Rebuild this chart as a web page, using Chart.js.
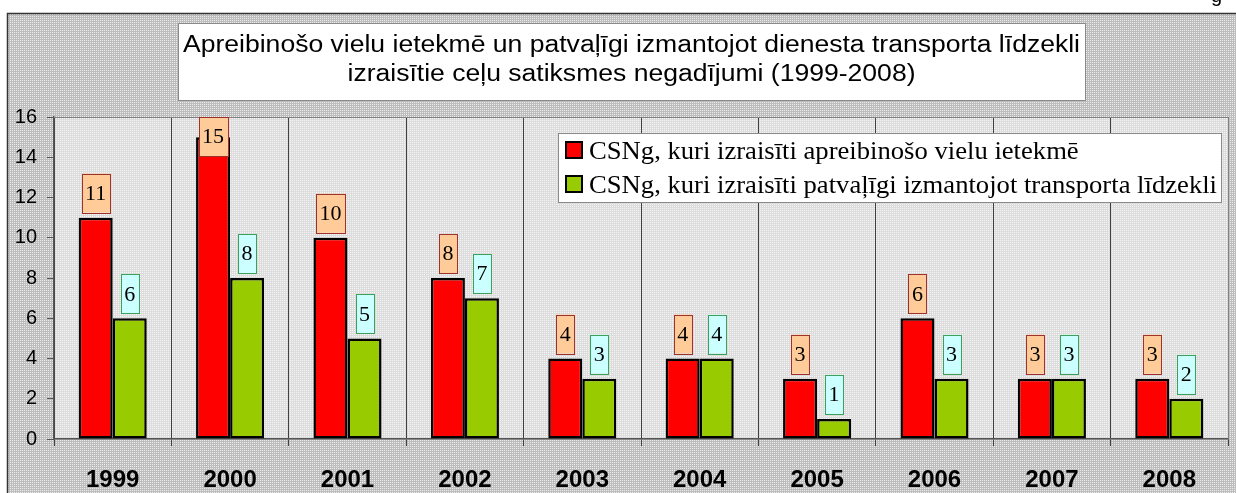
<!DOCTYPE html>
<html>
<head>
<meta charset="utf-8">
<script src="https://cdn.jsdelivr.net/npm/chart.js@4"></script>
<style>
html,body{margin:0;padding:0;background:#fff;}
#wrap{width:1236px;height:493px;}
</style>
</head>
<body>
<div id="wrap"><canvas id="c" width="1236" height="493"></canvas></div>
<script>
const years = ['1999','2000','2001','2002','2003','2004','2005','2006','2007','2008'];
const drugSeries = [11,15,10,8,4,4,3,6,3,3];
const unauthSeries = [6,8,5,7,3,4,1,3,3,2];
const seriesNames = ['CSNg, kuri izraisīti apreibinošo vielu ietekmē',
                     'CSNg, kuri izraisīti patvaļīgi izmantojot transporta līdzekli'];
const titleLines = ['Apreibinošo vielu ietekmē un patvaļīgi izmantojot dienesta transporta līdzekli',
                    'izraisītie ceļu satiksmes negadījumi (1999-2008)'];

const SANS = '"Liberation Sans", Arial, sans-serif';
const SERIF = '"Liberation Serif", "Times New Roman", serif';

function makePattern(ctx, base, dot) {
  const c = document.createElement('canvas');
  c.width = 2; c.height = 2;
  const g = c.getContext('2d');
  g.fillStyle = base; g.fillRect(0,0,2,2);
  g.fillStyle = dot; g.fillRect(0,0,1,1);
  return ctx.createPattern(c, 'repeat');
}

function squeezedText(ctx, lines, font, refText, target, x, ys, align) {
  ctx.font = font;
  const sx = target / ctx.measureText(refText).width;
  ctx.textAlign = align;
  ctx.textBaseline = 'alphabetic';
  lines.forEach((t, i) => {
    ctx.save();
    ctx.translate(x, ys[i]);
    ctx.scale(sx, 1);
    ctx.fillText(t, 0, 0);
    ctx.restore();
  });
}

const decor = {
  id: 'decor',
  beforeDraw(chart) {
    const ctx = chart.ctx, a = chart.chartArea;
    ctx.save();
    ctx.fillStyle = '#fff';
    ctx.fillRect(0, 0, chart.width, chart.height);
    ctx.fillStyle = makePattern(ctx, '#bdbdbd', '#ececec');
    ctx.fillRect(7, 13, chart.width - 7, chart.height - 13);
    ctx.strokeStyle = '#333';
    ctx.lineWidth = 1.5;
    ctx.strokeRect(7.5, 13.5, chart.width + 5, chart.height + 5);
    ctx.fillStyle = makePattern(ctx, '#dcdcdc', '#f6f6f6');
    ctx.fillRect(a.left, a.top, a.right - a.left, a.bottom - a.top);
    ctx.fillStyle = '#000';
    ctx.font = '20px ' + SANS;
    ctx.textBaseline = 'alphabetic';
    ctx.fillText('g', 1211, 2);
    ctx.restore();
  },
  afterDatasetsDraw(chart) {
    const ctx = chart.ctx, a = chart.chartArea;
    ctx.save();
    ctx.strokeStyle = '#808080';
    ctx.lineWidth = 1;
    ctx.beginPath();
    ctx.moveTo(a.left, a.top + 0.5); ctx.lineTo(a.right + 0.5, a.top + 0.5);
    ctx.lineTo(a.right + 0.5, a.bottom);
    ctx.stroke();
    const styles = [
      {fill: '#FFCC99', stroke: '#A0302A'},
      {fill: '#CCFFFF', stroke: '#3AA05A'}
    ];
    ctx.font = '22px ' + SERIF;
    ctx.textAlign = 'center';
    ctx.textBaseline = 'middle';
    chart.data.datasets.forEach((ds, di) => {
      const meta = chart.getDatasetMeta(di);
      meta.data.forEach((bar, i) => {
        const txt = String(ds.data[i]);
        const tw = ctx.measureText(txt).width;
        const w = Math.round(tw + 7), h = 39;
        let bottom = bar.y - 5;
        let top = bottom - h;
        if (top < a.top) { top = a.top; bottom = top + h; }
        const left = Math.round(bar.x - w / 2);
        ctx.fillStyle = styles[di].fill;
        ctx.fillRect(left, top, w, h);
        ctx.strokeStyle = styles[di].stroke;
        ctx.lineWidth = 1;
        ctx.strokeRect(left + 0.5, Math.round(top) + 0.5, w, h);
        ctx.fillStyle = '#000';
        ctx.fillText(txt, bar.x, top + h / 2 + 1);
      });
    });
    ctx.restore();
  },
  afterDraw(chart) {
    const ctx = chart.ctx;
    ctx.save();
    // title box
    ctx.fillStyle = '#fff';
    ctx.fillRect(178, 23, 907, 77);
    ctx.strokeStyle = '#8a8a8a';
    ctx.lineWidth = 1;
    ctx.strokeRect(178.5, 23.5, 907, 77);
    ctx.fillStyle = '#000';
    squeezedText(ctx, titleLines, 'normal 23.5px ' + SANS, titleLines[0], 897, 631.5, [52, 81], 'center');
    // legend box
    ctx.fillStyle = '#fff';
    ctx.fillRect(558, 133, 663, 69);
    ctx.strokeStyle = '#8a8a8a';
    ctx.strokeRect(558.5, 133.5, 663, 69);
    const colors = chart.data.datasets.map(d => d.backgroundColor);
    const baselines = [159, 193];
    seriesNames.forEach((n, i) => {
      ctx.fillStyle = colors[i];
      ctx.fillRect(565, baselines[i] - 18, 17, 17);
      ctx.strokeStyle = '#000';
      ctx.lineWidth = 2;
      ctx.strokeRect(566, baselines[i] - 17, 16, 16);
    });
    ctx.fillStyle = '#000';
    squeezedText(ctx, seriesNames, 'normal 24.5px ' + SERIF, seriesNames[1], 628, 589, baselines, 'left');
    ctx.restore();
  }
};

new Chart(document.getElementById('c'), {
  type: 'bar',
  data: {
    labels: years,
    datasets: [
      {label: seriesNames[0], data: drugSeries, backgroundColor: '#FF0000', borderColor: '#000', borderWidth: 2.5, borderSkipped: false},
      {label: seriesNames[1], data: unauthSeries, backgroundColor: '#99CC00', borderColor: '#000', borderWidth: 2.5, borderSkipped: false}
    ]
  },
  options: {
    responsive: false,
    animation: false,
    devicePixelRatio: 1,
    layout: {padding: {top: 117, right: 8, left: 0, bottom: 0}},
    datasets: {bar: {categoryPercentage: 0.58, barPercentage: 1.0}},
    plugins: {legend: {display: false}, title: {display: false}, tooltip: {enabled: false}},
    scales: {
      x: {
        grid: {offset: true, color: '#404040', lineWidth: 1, tickLength: 7, drawOnChartArea: true},
        border: {color: '#555', width: 1.5},
        ticks: {color: '#000', font: {family: SANS, size: 24, weight: 'bold'}, padding: 20, maxRotation: 0},
        afterFit(s) { s.height = 54; }
      },
      y: {
        min: 0, max: 16,
        grid: {drawOnChartArea: false, color: '#555', tickLength: 7},
        border: {color: '#555', width: 1.5},
        ticks: {stepSize: 2, color: '#000', font: {family: SANS, size: 20}, padding: 10},
        afterFit(s) { s.width = 54; }
      }
    }
  },
  plugins: [decor]
});
</script>
</body>
</html>
